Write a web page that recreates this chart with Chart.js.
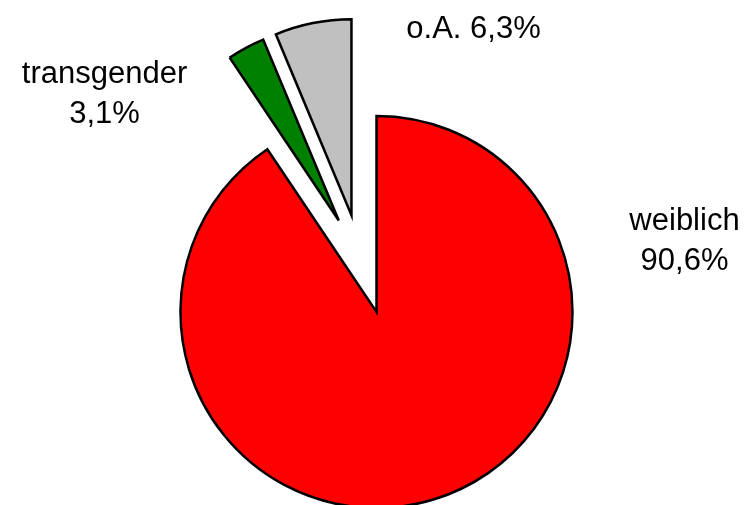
<!DOCTYPE html>
<html>
<head>
<meta charset="utf-8">
<script src="https://cdn.jsdelivr.net/npm/chart.js@4/dist/chart.umd.min.js"></script>
<style>
  html, body { margin: 0; padding: 0; background: #ffffff; }
  #wrap { width: 747px; height: 505px; position: relative; }
</style>
</head>
<body>
<div id="wrap"><canvas id="c"></canvas></div>
<script>
// ---- data ----
const categories = ['weiblich', 'transgender', 'o.A.'];
const values = [90.6, 3.1, 6.3];
const colors = ['#FF0000', '#008000', '#C0C0C0'];

// ---- style: explosion of slices (distance px, direction deg clockwise from top) ----
const explodeDist = [0, 99, 100];
const explodeDir = [0, 337.6, 345.5];

// ---- style: label placement relative to pie centre (baseline of first line) ----
const labelPos = [
  { dx: 308, dy: -82, single: false },
  { dx: -272, dy: -229, single: false },
  { dx: 97, dy: -274, single: true }
];

function fmt(v) {
  return v.toFixed(1).replace('.', ',') + '%';
}

const explodePlugin = {
  id: 'explodeShift',
  afterDatasetUpdate(chart, args) {
    const meta = args.meta;
    meta.data.forEach((arc, i) => {
      const d = explodeDist[i] || 0;
      if (!d) return;
      const a = (explodeDir[i] - 90) * Math.PI / 180;
      arc.x += Math.cos(a) * d;
      arc.y += Math.sin(a) * d;
    });
  }
};

const labelPlugin = {
  id: 'sliceLabels',
  afterDraw(chart) {
    const cx = chart.chartArea.left + (chart.chartArea.right - chart.chartArea.left) / 2;
    const cy = chart.chartArea.top + (chart.chartArea.bottom - chart.chartArea.top) / 2;
    const ctx = chart.ctx;
    ctx.save();
    ctx.fillStyle = '#000000';
    ctx.font = '31px "Liberation Sans", Arial, sans-serif';
    ctx.textAlign = 'center';
    ctx.textBaseline = 'alphabetic';
    const lineGap = 40;
    categories.forEach((cat, i) => {
      const p = labelPos[i];
      const x = cx + p.dx;
      const y = cy + p.dy;
      if (p.single) {
        ctx.fillText(cat + ' ' + fmt(values[i]), x, y);
      } else {
        ctx.fillText(cat, x, y);
        ctx.fillText(fmt(values[i]), x, y + lineGap);
      }
    });
    ctx.restore();
  }
};

new Chart(document.getElementById('c'), {
  type: 'pie',
  data: {
    labels: categories,
    datasets: [{
      data: values,
      backgroundColor: colors,
      borderColor: '#000000',
      borderWidth: 2.5,
      borderJoinStyle: 'miter',
      clip: false
    }]
  },
  options: {
    responsive: true,
    maintainAspectRatio: false,
    animation: false,
    radius: 196,
    layout: { padding: { top: 119, bottom: 0, left: 6, right: 0 } },
    plugins: {
      legend: { display: false },
      tooltip: { enabled: false }
    },
    events: []
  },
  plugins: [explodePlugin, labelPlugin]
});
</script>
</body>
</html>
